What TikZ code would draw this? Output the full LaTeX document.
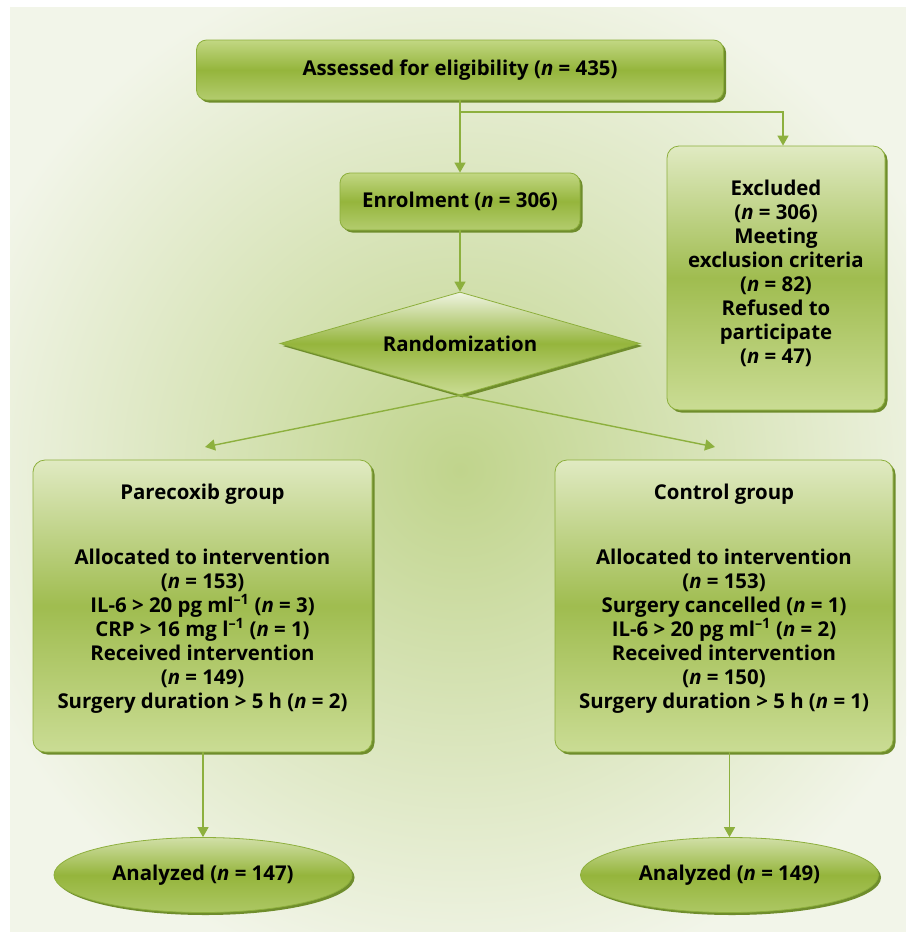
\documentclass[tikz,border=0pt]{standalone}
\usepackage{fontspec}
\setmainfont{Open Sans}
\usetikzlibrary{shapes.geometric,arrows.meta,shadows}
\definecolor{bgc}{HTML}{F2F5E9}
\definecolor{glowc}{HTML}{C0D48C}
\definecolor{linec}{HTML}{8DB03E}
\definecolor{bordc}{HTML}{8DAF3C}
\definecolor{shadc}{HTML}{6F8D2C}
\definecolor{midg}{HTML}{95B53C}
\definecolor{topsm}{HTML}{C2D783}
\definecolor{botsm}{HTML}{B3CC6E}
\definecolor{toplg}{HTML}{E0EAC2}
\definecolor{botlg}{HTML}{CADC94}
\newcommand{\nn}{\textit{n}}
\begin{document}
\begin{tikzpicture}[x=1pt,y=-1pt,
  txt/.style={font=\bfseries\fontsize{20.4}{24}\selectfont, align=center, text=black},
  shad/.style={drop shadow={shadow xshift=2.5pt,shadow yshift=-2.5pt,fill=shadc,opacity=1}},
  smallbox/.style={txt, shad, draw=bordc, line width=0.8pt, rounded corners=10pt,
    top color=topsm, bottom color=botsm, middle color=midg, inner sep=0pt},
  bigbox/.style={txt, shad, draw=bordc, line width=0.8pt, rounded corners=12pt,
    top color=toplg, bottom color=botlg, middle color=midg!90!white, inner sep=0pt},
  rhomb/.style={txt, shad, diamond, draw=bordc, line width=0.8pt, inner sep=0pt,
    top color=white!85!midg, bottom color=botlg, middle color=midg},
  oval/.style={txt, shad, ellipse, draw=bordc, line width=0.8pt, inner sep=0pt,
    top color=toplg!80!midg, bottom color=botsm!80!midg, middle color=midg},
  arr/.style={draw=linec, line width=1.4pt, -{Triangle[width=11pt,length=10pt]}},
  ln/.style={draw=linec, line width=1.4pt}
]
\useasboundingbox (0,0) rectangle (906,932);
\fill[white] (0,0) rectangle (906,932);
\fill[bgc] (10,7) rectangle (906,932);
\begin{scope}
  \clip (10,7) rectangle (906,932);
  \shade[inner color=glowc, outer color=bgc] (460,470) circle[radius=520pt];
\end{scope}

\node[smallbox, minimum width=527pt, minimum height=60pt] (assess) at (460,70)
  {Assessed for eligibility (\nn{} = 435)};
\node[smallbox, minimum width=240pt, minimum height=57pt] (enrol) at (460,201.5)
  {Enrolment (\nn{} = 306)};
\node[bigbox, minimum width=218pt, minimum height=264pt] (excl) at (776,278)
  {Excluded\\(\nn{} = 306)\\Meeting\\exclusion criteria\\(\nn{} = 82)\\Refused to\\participate\\(\nn{} = 47)\\[-12pt]\mbox{}};
\node[rhomb, minimum width=360pt, minimum height=103pt, aspect=3.5] (rand) at (460,343.5)
  {Randomization};
\node[bigbox, minimum width=339pt, minimum height=292pt] (parec) at (202.5,606)
  {Parecoxib group\\[41pt]Allocated to intervention\\(\nn{} = 153)\\IL-6 > 20 pg ml\textsuperscript{–1} (\nn{} = 3)\\CRP > 16 mg l\textsuperscript{–1} (\nn{} = 1)\\Received intervention\\(\nn{} = 149)\\Surgery duration > 5 h (\nn{} = 2)\\[-4pt]\mbox{}};
\node[bigbox, minimum width=338pt, minimum height=292pt] (ctrl) at (724,606)
  {Control group\\[41pt]Allocated to intervention\\(\nn{} = 153)\\Surgery cancelled (\nn{} = 1)\\IL-6 > 20 pg ml\textsuperscript{–1} (\nn{} = 2)\\Received intervention\\(\nn{} = 150)\\Surgery duration > 5 h (\nn{} = 1)\\[-4pt]\mbox{}};
\node[oval, minimum width=298pt, minimum height=75pt] (anL) at (203,875)
  {Analyzed (\nn{} = 147)};
\node[oval, minimum width=298pt, minimum height=75pt] (anR) at (729.5,875)
  {Analyzed (\nn{} = 149)};

\coordinate (br) at (460,112);
\coordinate (lt) at (205,447);
\coordinate (rt) at (715,447);

\draw[arr] (assess.south) -- (enrol.north);
\draw[arr] (br) -| ([xshift=7pt]excl.north);
\draw[arr] (enrol.south) -- (rand.north);
\draw[arr] (rand.south) -- (lt);
\draw[arr] (rand.south) -- (rt);
\draw[arr] (anL.north |- parec.south) -- (anL.north);
\draw[arr] (anR.north |- ctrl.south) -- (anR.north);
\end{tikzpicture}
\end{document}
